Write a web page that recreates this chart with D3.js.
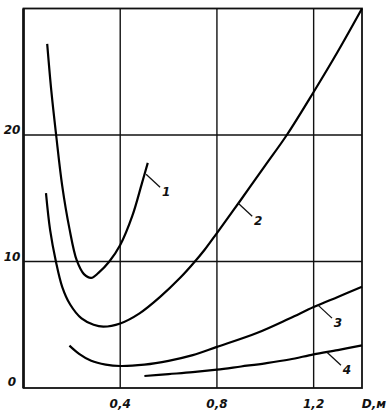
<!DOCTYPE html>
<html>
<head>
<meta charset="utf-8">
<script src="https://cdn.jsdelivr.net/npm/d3@7"></script>
<style>
  body { margin: 0; background: #fff; }
  text { font-family: "DejaVu Sans", sans-serif; font-style: italic; font-weight: bold; font-size: 12px; fill: #111; }
</style>
</head>
<body>
<svg></svg>
<script>
// 数据
var xTicks = [0.4, 0.8, 1.2]
var xTickLabels = ['0,4', '0,8', '1,2']
var yTicks = [0, 10, 20]
var yTickLabels = ['0', '10', '20']
var xName = 'D,м'

var curve1 = [[0.098,27.2],[0.115,23.5],[0.135,20],[0.16,16],[0.19,12.6],[0.22,10.1],[0.25,9.0],[0.28,8.7],[0.31,9.1],[0.355,10],[0.4,11.3],[0.45,13.6],[0.49,16.2],[0.514,17.8]]
var curve2 = [[0.093,15.4],[0.11,12.5],[0.134,10],[0.16,8.0],[0.193,6.6],[0.24,5.5],[0.29,5.0],[0.33,4.85],[0.4,5.1],[0.48,5.9],[0.565,7.2],[0.65,8.75],[0.70,9.8],[0.75,10.95],[0.8,12.25],[0.9,14.9],[1.0,17.6],[1.089,20],[1.2,23.4],[1.3,26.6],[1.4,30]]
var curve3 = [[0.19,3.35],[0.23,2.7],[0.28,2.15],[0.34,1.85],[0.4,1.74],[0.5,1.85],[0.6,2.15],[0.7,2.6],[0.8,3.25],[0.965,4.35],[1.1,5.5],[1.2,6.4],[1.3,7.2],[1.4,8.0]]
var curve4 = [[0.5,0.95],[0.6,1.1],[0.7,1.25],[0.8,1.45],[0.9,1.7],[1.0,1.95],[1.1,2.25],[1.2,2.66],[1.3,3.0],[1.4,3.37]]
var curves = [curve1, curve2, curve3, curve4]
// 曲线编号及引线起点
var curveNames = ['1', '2', '3', '4']
var leaderAt = [[0.507,16.9],[0.888,14.6],[1.218,6.55],[1.255,2.82]]

var svg = d3.select('svg')
.attr('width', 390)
.attr('height', 416)

var x = d3.scaleLinear().domain([0, 1.4]).range([23.5, 362])
var y = d3.scaleLinear().domain([0, 30]).range([388, 8.5])

// 网格
svg.selectAll('.vgrid')
.data(xTicks)
.enter()
.append('line')
.attr('x1', d => x(d)).attr('x2', d => x(d))
.attr('y1', y(30)).attr('y2', y(0))
.attr('stroke', '#111')
.attr('stroke-width', 1.4)

svg.selectAll('.hgrid')
.data(yTicks.filter(d => d > 0))
.enter()
.append('line')
.attr('x1', x(0)).attr('x2', x(1.4))
.attr('y1', d => y(d)).attr('y2', d => y(d))
.attr('stroke', '#111')
.attr('stroke-width', 1.4)

// 边框
svg.append('rect')
.attr('x', x(0)).attr('y', y(30))
.attr('width', x(1.4) - x(0)).attr('height', y(0) - y(30))
.attr('fill', 'none')
.attr('stroke', '#111')
.attr('stroke-width', 1.8)
svg.append('line')
.attr('x1', x(0)).attr('x2', x(0))
.attr('y1', y(30)).attr('y2', y(0))
.attr('stroke', '#111')
.attr('stroke-width', 2.6)

// 曲线
var line = d3.line()
.x(d => x(d[0]))
.y(d => y(d[1]))
.curve(d3.curveCatmullRom.alpha(0.5))

svg.selectAll('.curve')
.data(curves)
.enter()
.append('path')
.attr('d', line)
.attr('fill', 'none')
.attr('stroke', '#000')
.attr('stroke-width', 2.2)

// 引线和编号
svg.selectAll('.leader')
.data(leaderAt)
.enter()
.append('line')
.attr('x1', d => x(d[0])).attr('y1', d => y(d[1]))
.attr('x2', d => x(d[0]) + 14).attr('y2', d => y(d[1]) + 13)
.attr('stroke', '#111')
.attr('stroke-width', 1.3)

svg.selectAll('.cname')
.data(leaderAt)
.enter()
.append('text')
.attr('x', d => x(d[0]) + 20)
.attr('y', d => y(d[1]) + 22)
.style('text-anchor', 'middle')
.text((d, i) => curveNames[i])

// 刻度标签
svg.selectAll('.xlab')
.data(xTicks)
.enter()
.append('text')
.attr('x', d => x(d))
.attr('y', 408)
.style('text-anchor', 'middle')
.text((d, i) => xTickLabels[i])

svg.append('text')
.attr('x', 374)
.attr('y', 408)
.style('text-anchor', 'middle')
.text(xName)

svg.selectAll('.ylab')
.data(yTicks)
.enter()
.append('text')
.attr('x', 12)
.attr('y', d => d === 0 ? y(d) - 2 : y(d) - 1)
.style('text-anchor', 'middle')
.text((d, i) => yTickLabels[i])
</script>
</body>
</html>
